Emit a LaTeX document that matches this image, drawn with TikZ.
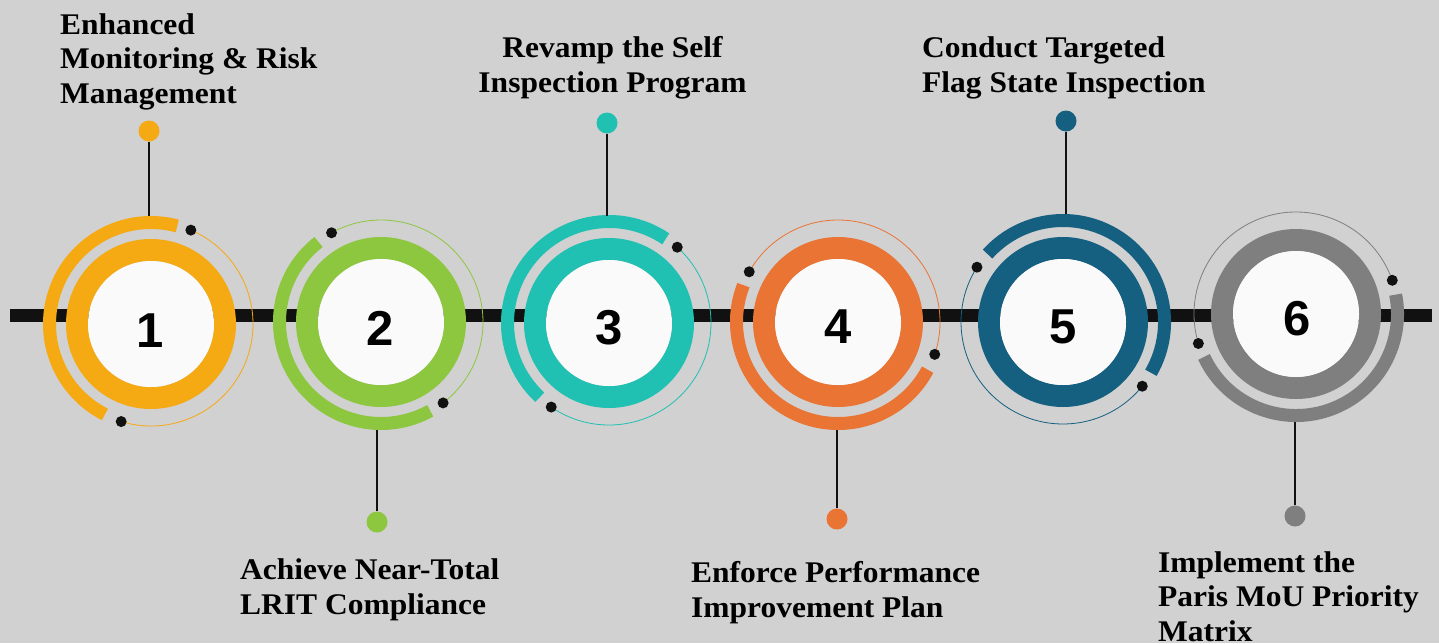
\documentclass[tikz,border=0pt]{standalone}
\usepackage{fontspec}
\setmainfont[FakeStretch=1.05]{Liberation Serif}
\newfontfamily\numfont{Liberation Sans}
\usetikzlibrary{calc}
\definecolor{bgc}{HTML}{D1D1D1}
\definecolor{dotc}{HTML}{111111}
\definecolor{whc}{HTML}{FAFAFA}
\definecolor{c1}{HTML}{F5A912}
\definecolor{c2}{HTML}{8DC63F}
\definecolor{c3}{HTML}{20C0B2}
\definecolor{c4}{HTML}{E97434}
\definecolor{c5}{HTML}{155F80}
\definecolor{c6}{HTML}{7F7F7F}
\tikzset{
  thickarc/.style={line width=13pt},
  thinarc/.style={line width=0.8pt},
  ringline/.style={line width=22pt},
  enddot/.style={circle, fill=dotc, inner sep=0pt, minimum size=11pt},
  labeldot/.style={circle, inner sep=0pt, minimum size=21pt},
  stem/.style={draw=dotc, line width=2pt},
  whitedisc/.style={circle, fill=whc, inner sep=0pt, minimum size=126pt},
  numtext/.style={font=\numfont\bfseries\fontsize{49}{49}\selectfont, inner sep=0pt, anchor=base},
  labeltext/.style={font=\bfseries\fontsize{30}{34.5}\selectfont, inner sep=0pt},
}
% #1 name, #2 x, #3 y (down), #4 colour, #5/#6 thick arc angles, #7/#8 thin arc angles
\newcommand\ringgroup[8]{%
  \coordinate (#1) at (#2,-#3);
  \draw[#4, thickarc] ($(#1)+(#5:101.5pt)$) arc[start angle=#5, end angle=#6, radius=101.5pt];
  \draw[#4, thinarc] ($(#1)+(#7:102pt)$) arc[start angle=#7, end angle=#8, radius=102pt];
  \node[enddot] (#1a) at ($(#1)+(#7:102pt)$) {};
  \node[enddot] (#1b) at ($(#1)+(#8:102pt)$) {};
  \draw[#4, ringline] (#1) circle (74pt);
  \node[whitedisc] (#1w) at (#1) {};
}
\begin{document}
\begin{tikzpicture}[x=1pt,y=1pt]
\fill[bgc] (0,0) rectangle (1439,-643);
\useasboundingbox (0,0) rectangle (1439,-643);
% timeline bar
\coordinate (barL) at (10,-315.5);
\coordinate (barR) at (1432,-315.5);
\draw[dotc, line width=13pt] (barL) -- (barR);
% rings
\ringgroup{r1}{151}{324}{c1}{75}{243}{-107}{67}
\ringgroup{r2}{381}{322}{c2}{128}{299}{-52.5}{119}
\ringgroup{r3}{609}{323}{c3}{56}{227}{-124.5}{48}
\ringgroup{r4}{838}{322}{c4}{158.7}{332}{-18.5}{150.5}
\ringgroup{r5}{1063}{322}{c5}{-30}{138}{147.5}{321}
\ringgroup{r6}{1296}{314}{c6}{205}{371}{19.3}{196.8}
% numbers
\node[numtext] (n1) at (150,-347) {1};
\node[numtext] (n2) at (380,-345) {2};
\node[numtext] (n3) at (609,-344) {3};
\node[numtext] (n4) at (838,-343) {4};
\node[numtext] (n5) at (1063,-343) {5};
\node[numtext] (n6) at (1297,-335) {6};
% label dots and stems
\node[labeldot, fill=c1] (d1) at (149,-131) {};
\node[labeldot, fill=c2] (d2) at (377,-522) {};
\node[labeldot, fill=c3] (d3) at (607,-123) {};
\node[labeldot, fill=c4] (d4) at (837,-519) {};
\node[labeldot, fill=c5] (d5) at (1066,-121) {};
\node[labeldot, fill=c6] (d6) at (1295,-516) {};
\coordinate (s1) at (149,-216);
\coordinate (s2) at (377,-430);
\coordinate (s3) at (607,-216);
\coordinate (s4) at (837,-430);
\coordinate (s5) at (1066,-214);
\coordinate (s6) at (1295,-422);
\draw[stem] (d1) -- (s1);
\draw[stem] (d2) -- (s2);
\draw[stem] (d3) -- (s3);
\draw[stem] (d4) -- (s4);
\draw[stem] (d5) -- (s5);
\draw[stem] (d6) -- (s6);
% labels (anchored at the baseline of the last line)
\node[labeltext, align=left, anchor=base west] (t1) at (60,-103) {Enhanced\\Monitoring \& Risk\\Management};
\node[labeltext, align=left, anchor=base west] (t2) at (240,-614) {Achieve Near-Total\\LRIT Compliance};
\node[labeltext, align=center, anchor=base] (t3) at (612.5,-92) {Revamp the Self\\Inspection Program};
\node[labeltext, align=left, anchor=base west] (t4) at (691,-617) {Enforce Performance\\Improvement Plan};
\node[labeltext, align=left, anchor=base west] (t5) at (922,-92) {Conduct Targeted\\Flag State Inspection};
\node[labeltext, align=left, anchor=base west] (t6) at (1158,-641) {Implement the\\Paris MoU Priority\\Matrix};
\end{tikzpicture}
\end{document}
